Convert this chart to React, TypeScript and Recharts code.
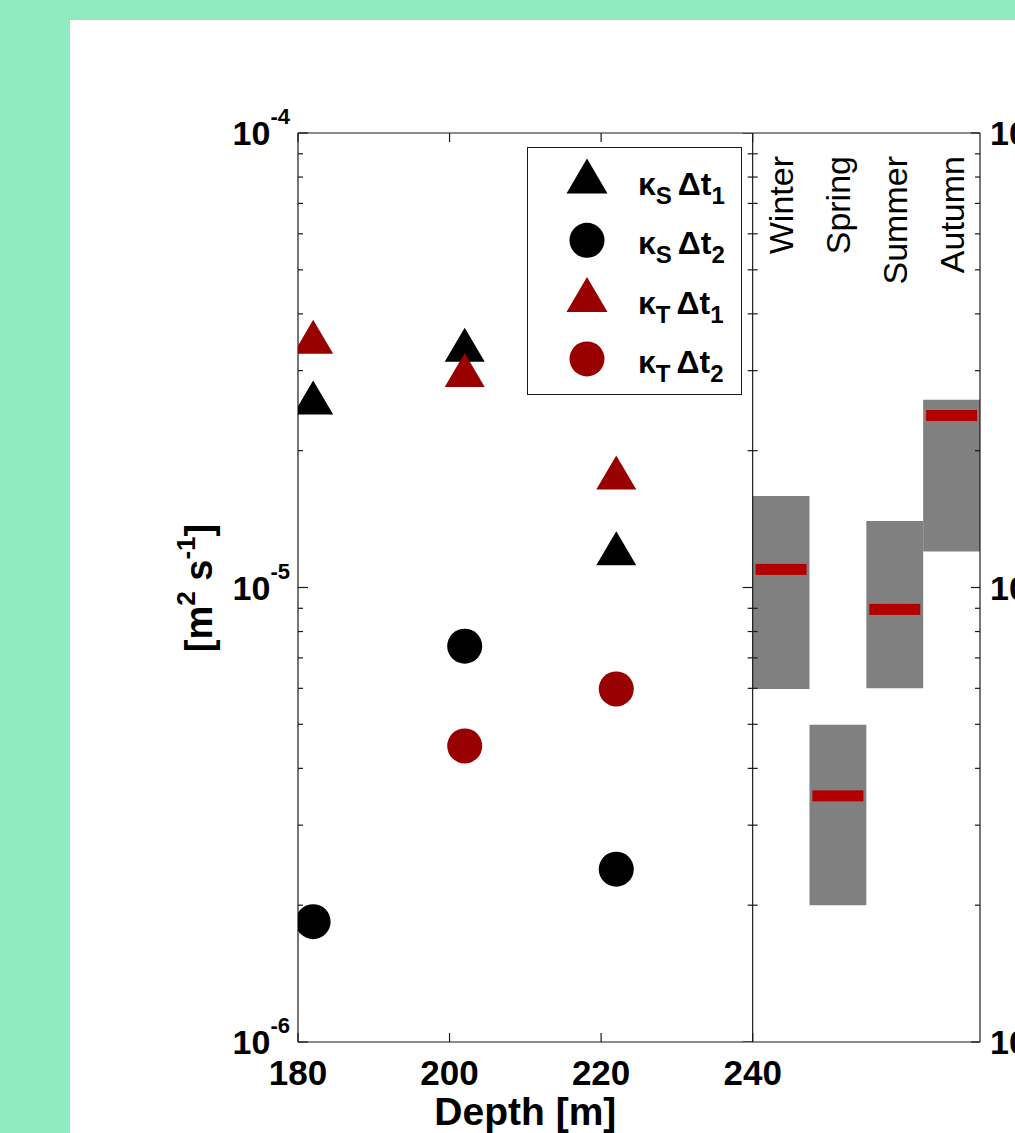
import React from "react";
import {
  ScatterChart,
  Scatter,
  XAxis,
  YAxis,
  ReferenceArea,
  ReferenceLine,
  Legend,
} from "recharts";

// --- data ---
const depths = [182, 202, 222];
const kS_dt1 = [2.62e-5, 3.42e-5, 1.22e-5];
const kS_dt2 = [1.84e-6, 7.43e-6, 2.4e-6];
const kT_dt1 = [3.56e-5, 3.01e-5, 1.79e-5];
const kT_dt2Depths = [202, 222];
const kT_dt2 = [4.48e-6, 5.98e-6];

const seasons = ["Winter", "Spring", "Summer", "Autumn"];
const seasonLow = [5.98e-6, 2.0e-6, 6.0e-6, 1.2e-5];
const seasonHigh = [1.59e-5, 4.99e-6, 1.4e-5, 2.59e-5];
const seasonMedian = [1.096e-5, 3.48e-6, 8.95e-6, 2.39e-5];

const depthTicks = [180, 200, 220, 240];
const yTicks = [
  1e-6, 2e-6, 3e-6, 4e-6, 5e-6, 6e-6, 7e-6, 8e-6, 9e-6,
  1e-5, 2e-5, 3e-5, 4e-5, 5e-5, 6e-5, 7e-5, 8e-5, 9e-5,
  1e-4,
];

// seasonal panel sits to the right of 240 m, one column of 7.5 units per season
const SEASON_START = 240;
const SEASON_STEP = 7.5;
const X_DOMAIN: [number, number] = [180, 270];
const Y_DOMAIN: [number, number] = [1e-6, 1e-4];

const FONT = "'Liberation Sans', Arial, Helvetica, sans-serif";
const AXIS = "#1a1a1a";
const BLACK = "#000000";
const DARK_RED = "#990000";
const MEDIAN_RED = "#b20000";
const BOX_GRAY = "#808080";

// layout
const W = 1100;
const H = 1133;
const M = { top: 103, right: 20, bottom: 31, left: 198 };
const PLOT_LEFT = M.left + 100;
const PLOT_RIGHT = W - M.right - 100;

const toPoints = (xs: number[], ys: number[]) => xs.map((d, i) => ({ depth: d, k: ys[i] }));

const isMajor = (v: number) => Math.abs(Math.log10(v) - Math.round(Math.log10(v))) < 1e-6;

const triangle = (color: string) => (p: any) => {
  const { cx, cy } = p;
  if (cx == null || cy == null) return <g />;
  return (
    <polygon
      points={`${cx - 20},${cy + 17} ${cx + 20},${cy + 17} ${cx},${cy - 17}`}
      fill={color}
    />
  );
};

const circle = (color: string) => (p: any) => {
  if (p.cx == null || p.cy == null) return <g />;
  return <circle cx={p.cx} cy={p.cy} r={17.5} fill={color} />;
};

const series = [
  { name: "kS dt1", data: toPoints(depths, kS_dt1), shape: "tri", color: BLACK, kSub: "S", tSub: "1" },
  { name: "kS dt2", data: toPoints(depths, kS_dt2), shape: "dot", color: BLACK, kSub: "S", tSub: "2" },
  { name: "kT dt1", data: toPoints(depths, kT_dt1), shape: "tri", color: DARK_RED, kSub: "T", tSub: "1" },
  { name: "kT dt2", data: toPoints(kT_dt2Depths, kT_dt2), shape: "dot", color: DARK_RED, kSub: "T", tSub: "2" },
];

function PowerLabel({ x, y, anchor, exp }: { x: number; y: number; anchor: "start" | "end"; exp: number }) {
  return (
    <text x={x} y={y} textAnchor={anchor} fontFamily={FONT} fontWeight="bold" fontSize={34} fill="#000">
      <tspan>10</tspan>
      <tspan dy={-21} fontSize={22}>{exp}</tspan>
    </text>
  );
}

function LeftTick(p: any) {
  const { x, y, payload } = p;
  const v = payload.value;
  const major = isMajor(v);
  return (
    <g>
      <line x1={x} x2={x + (major ? 10 : 5)} y1={y} y2={y} stroke={AXIS} strokeWidth={1.2} />
      {major && <PowerLabel x={x - 8} y={y + 12} anchor="end" exp={Math.round(Math.log10(v))} />}
    </g>
  );
}

function RightTick(p: any) {
  const { x, y, payload } = p;
  const v = payload.value;
  const major = isMajor(v);
  return (
    <g>
      <line x1={x} x2={x - (major ? 9 : 5)} y1={y} y2={y} stroke={AXIS} strokeWidth={1.2} />
      {major && <PowerLabel x={x + 10} y={y + 12} anchor="start" exp={Math.round(Math.log10(v))} />}
    </g>
  );
}

function BottomTick(p: any) {
  const { x, y, payload } = p;
  return (
    <g>
      <line x1={x} x2={x} y1={y} y2={y - 9} stroke={AXIS} strokeWidth={1.2} />
      <text x={x} y={y + 43} textAnchor="middle" fontFamily={FONT} fontWeight="bold" fontSize={35} fill="#000">
        {payload.value}
      </text>
    </g>
  );
}

function TopTick(p: any) {
  const { x, y } = p;
  return <line x1={x} x2={x} y1={y} y2={y + 9} stroke={AXIS} strokeWidth={1.2} />;
}

// small ticks along the 240 m divider
const dividerTick = (p: any) => {
  if (p.cx == null || p.cy == null) return <g />;
  const v = p.payload?.k ?? p.k;
  const major = isMajor(v);
  return (
    <line
      x1={p.cx - (major ? 10 : 5)}
      x2={p.cx + (major ? 0 : 5)}
      y1={p.cy}
      y2={p.cy}
      stroke={AXIS}
      strokeWidth={1.2}
    />
  );
};

const medianBar = (p: any) => {
  if (p.cx == null || p.cy == null) return <g />;
  return <rect x={p.cx - 25.5} y={p.cy - 5.5} width={51} height={11} fill={MEDIAN_RED} />;
};

const seasonLabel = (name: string) => (props: any) => {
  const vb = props.viewBox || props;
  const x = vb.x + vb.width / 2 + 12;
  const y = vb.y + 23;
  return (
    <text
      x={x}
      y={y}
      transform={`rotate(-90 ${x} ${y})`}
      textAnchor="end"
      fontFamily={FONT}
      fontSize={34}
      fill="#000"
    >
      {name}
    </text>
  );
};

function YTitle() {
  const x = 212;
  const y = 588;
  return (
    <text
      x={x}
      y={y}
      transform={`rotate(-90 ${x} ${y})`}
      textAnchor="middle"
      fontFamily={FONT}
      fontWeight="bold"
      fontSize={38}
      fill="#000"
    >
      <tspan>[m</tspan>
      <tspan dy={-17} fontSize={26}>2</tspan>
      <tspan dy={17}> s</tspan>
      <tspan dy={-17} fontSize={26}>-1</tspan>
      <tspan dy={17}>]</tspan>
    </text>
  );
}

function XTitle() {
  // centred under the depth panel (180..240), not the whole frame
  const x = PLOT_LEFT + ((PLOT_RIGHT - PLOT_LEFT) * (240 - X_DOMAIN[0])) / (X_DOMAIN[1] - X_DOMAIN[0]) / 2;
  return (
    <text x={x} y={1125} textAnchor="middle" fontFamily={FONT} fontWeight="bold" fontSize={39} fill="#000">
      Depth [m]
    </text>
  );
}

function LegendBox() {
  return (
    <div
      style={{
        width: 215,
        height: 248,
        boxSizing: "border-box",
        border: `1.3px solid ${AXIS}`,
        background: "#fff",
      }}
    >
      <svg width={213} height={246} style={{ display: "block" }}>
        {series.map((s, i) => {
          const base = 47 + i * 59.3;
          return (
            <g key={s.name}>
              {s.shape === "tri" ? (
                <polygon
                  points={`${59 - 20.5},${base - 1.5} ${59 + 20.5},${base - 1.5} ${59},${base - 36.5}`}
                  fill={s.color}
                />
              ) : (
                <circle cx={59} cy={base - 14} r={17.5} fill={s.color} />
              )}
              <text x={110} y={base} fontFamily={FONT} fontWeight="bold" fontSize={32} fill="#000">
                <tspan>κ</tspan>
                <tspan dy={9} fontSize={24}>{s.kSub}</tspan>
                <tspan dy={-9} dx={6}>Δt</tspan>
                <tspan dy={9} fontSize={24}>{s.tSub}</tspan>
              </text>
            </g>
          );
        })}
      </svg>
    </div>
  );
}

export default function App() {
  const medianPoints = seasons.map((_, i) => ({
    depth: SEASON_START + (i + 0.5) * SEASON_STEP,
    k: seasonMedian[i],
  }));
  const dividerPoints = yTicks.map((v) => ({ depth: SEASON_START, k: v }));

  return (
    <div
      style={{
        position: "fixed",
        left: 0,
        top: 0,
        width: 1015,
        height: 1133,
        overflow: "hidden",
        background: "#90ecc0",
      }}
    >
      <div style={{ position: "absolute", left: 70, top: 20, right: 0, bottom: 0, background: "#fff" }} />
      <div style={{ position: "absolute", left: 0, top: 0 }}>
        <ScatterChart width={W} height={H} margin={M}>
          <XAxis
            xAxisId="b"
            type="number"
            dataKey="depth"
            domain={X_DOMAIN}
            allowDataOverflow
            ticks={depthTicks}
            interval={0}
            tickLine={false}
            tickSize={0}
            tickMargin={0}
            height={60}
            axisLine={{ stroke: AXIS, strokeWidth: 1.2 }}
            tick={<BottomTick />}
            label={() => <XTitle />}
          />
          <XAxis
            xAxisId="t"
            orientation="top"
            type="number"
            dataKey="depth"
            domain={X_DOMAIN}
            allowDataOverflow
            ticks={depthTicks}
            interval={0}
            tickLine={false}
            tickSize={0}
            tickMargin={0}
            height={30}
            axisLine={{ stroke: AXIS, strokeWidth: 1.2 }}
            tick={<TopTick />}
          />
          <YAxis
            yAxisId="l"
            type="number"
            dataKey="k"
            scale="log"
            domain={Y_DOMAIN}
            allowDataOverflow
            ticks={yTicks}
            interval={0}
            tickLine={false}
            tickSize={0}
            tickMargin={0}
            width={100}
            axisLine={{ stroke: AXIS, strokeWidth: 1.2 }}
            tick={<LeftTick />}
            label={() => <YTitle />}
          />
          <YAxis
            yAxisId="r"
            orientation="right"
            type="number"
            dataKey="k"
            scale="log"
            domain={Y_DOMAIN}
            allowDataOverflow
            ticks={yTicks}
            interval={0}
            tickLine={false}
            tickSize={0}
            tickMargin={0}
            width={100}
            axisLine={{ stroke: AXIS, strokeWidth: 1.2 }}
            tick={<RightTick />}
          />

          {seasons.map((s, i) => (
            <ReferenceArea
              key={`box-${s}`}
              xAxisId="b"
              yAxisId="l"
              x1={SEASON_START + i * SEASON_STEP}
              x2={SEASON_START + (i + 1) * SEASON_STEP}
              y1={seasonLow[i]}
              y2={seasonHigh[i]}
              fill={BOX_GRAY}
              fillOpacity={1}
              stroke="none"
            />
          ))}
          {seasons.map((s, i) => (
            <ReferenceArea
              key={`lab-${s}`}
              xAxisId="b"
              yAxisId="l"
              x1={SEASON_START + i * SEASON_STEP}
              x2={SEASON_START + (i + 1) * SEASON_STEP}
              fill="none"
              fillOpacity={0}
              stroke="none"
              label={seasonLabel(s)}
            />
          ))}
          <ReferenceLine xAxisId="b" yAxisId="l" x={SEASON_START} stroke={AXIS} strokeWidth={1.2} />

          <Scatter
            name="divider ticks"
            xAxisId="t"
            yAxisId="r"
            data={dividerPoints}
            shape={dividerTick}
            legendType="none"
            isAnimationActive={false}
          />
          <Scatter
            name="season medians"
            xAxisId="b"
            yAxisId="l"
            data={medianPoints}
            shape={medianBar}
            legendType="none"
            isAnimationActive={false}
          />
          {series.map((s) => (
            <Scatter
              key={s.name}
              name={s.name}
              xAxisId="b"
              yAxisId="l"
              data={s.data}
              fill={s.color}
              shape={s.shape === "tri" ? triangle(s.color) : circle(s.color)}
              isAnimationActive={false}
            />
          ))}

          <Legend
            layout="vertical"
            align="center"
            verticalAlign="middle"
            content={() => <LegendBox />}
            wrapperStyle={{ left: 527, top: 147, width: 215, height: 248 }}
          />
        </ScatterChart>
      </div>
    </div>
  );
}
